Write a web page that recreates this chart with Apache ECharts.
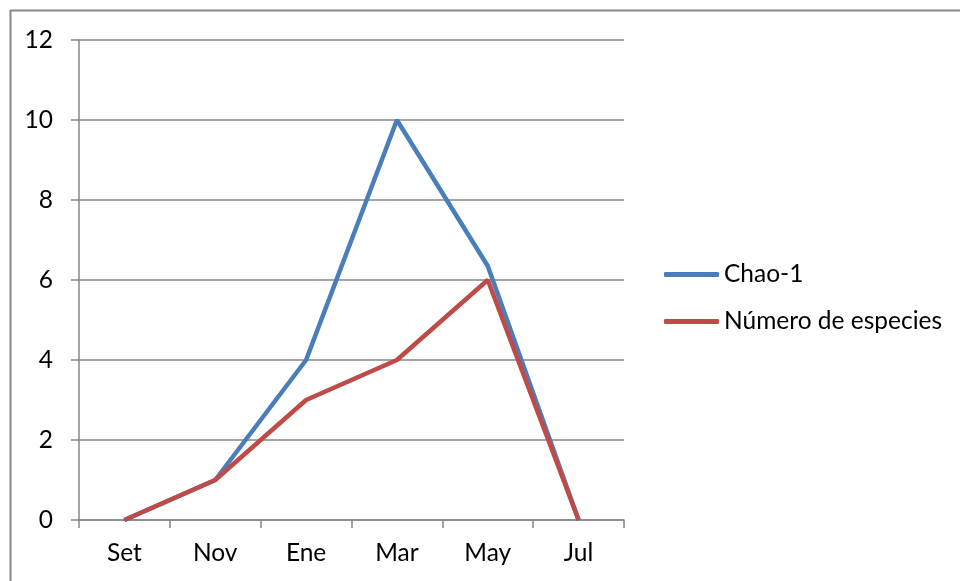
<!DOCTYPE html>
<html>
<head>
<meta charset="utf-8">
<script src="https://cdn.jsdelivr.net/npm/echarts@6/dist/echarts.min.js"></script>
<style>
html,body{margin:0;padding:0;background:#fff;}
#chart{width:960px;height:581px;}
</style>
</head>
<body>
<div id="chart"></div>
<script>
const categories = ['Set', 'Nov', 'Ene', 'Mar', 'May', 'Jul'];
const chao1 = [0, 1, 4, 10, 6.35, 0];
const numeroEspecies = [0, 1, 3, 4, 6, 0];
const seriesNames = ['Chao-1', 'Número de especies'];

const FONT = 'Lato';
const FS = 24.5;
const chart = echarts.init(document.getElementById('chart'), null, {renderer: 'canvas'});
chart.setOption({
  animation: false,
  backgroundColor: '#fff',
  graphic: [{
    type: 'rect',
    shape: {x: 10.5, y: 10.5, width: 1000, height: 700},
    style: {fill: 'none', stroke: '#888888', lineWidth: 2},
    silent: true
  }],
  grid: {left: 79, right: 336, top: 40, bottom: 61, containLabel: false},
  legend: {
    left: 664,
    top: 262,
    padding: 0,
    orient: 'vertical',
    itemWidth: 55,
    itemHeight: 5,
    itemGap: 22,
    icon: 'roundRect',
    textStyle: {fontFamily: FONT, fontSize: FS, color: '#000'},
    data: seriesNames
  },
  xAxis: {
    type: 'category',
    data: categories,
    boundaryGap: true,
    axisLine: {lineStyle: {color: '#868686', width: 1.5}},
    axisTick: {show: true, length: 8, inside: false, lineStyle: {color: '#868686', width: 1.5}},
    axisLabel: {fontFamily: FONT, fontSize: FS, color: '#000', margin: 21},
    splitLine: {show: false}
  },
  yAxis: {
    type: 'value',
    min: 0,
    max: 12,
    interval: 2,
    axisLine: {show: true, lineStyle: {color: '#868686', width: 1.5}},
    axisTick: {show: true, length: 8, lineStyle: {color: '#868686', width: 1.5}},
    axisLabel: {fontFamily: FONT, fontSize: FS, color: '#000', margin: 26},
    splitLine: {show: true, lineStyle: {color: '#868686', width: 1.5}}
  },
  series: [
    {
      name: seriesNames[0],
      type: 'line',
      data: chao1,
      symbol: 'none',
      lineStyle: {color: '#4A7EBB', width: 4.5},
      itemStyle: {color: '#4A7EBB'}
    },
    {
      name: seriesNames[1],
      type: 'line',
      data: numeroEspecies,
      symbol: 'none',
      lineStyle: {color: '#BE4B48', width: 4.5},
      itemStyle: {color: '#BE4B48'}
    }
  ]
});
</script>
</body>
</html>
